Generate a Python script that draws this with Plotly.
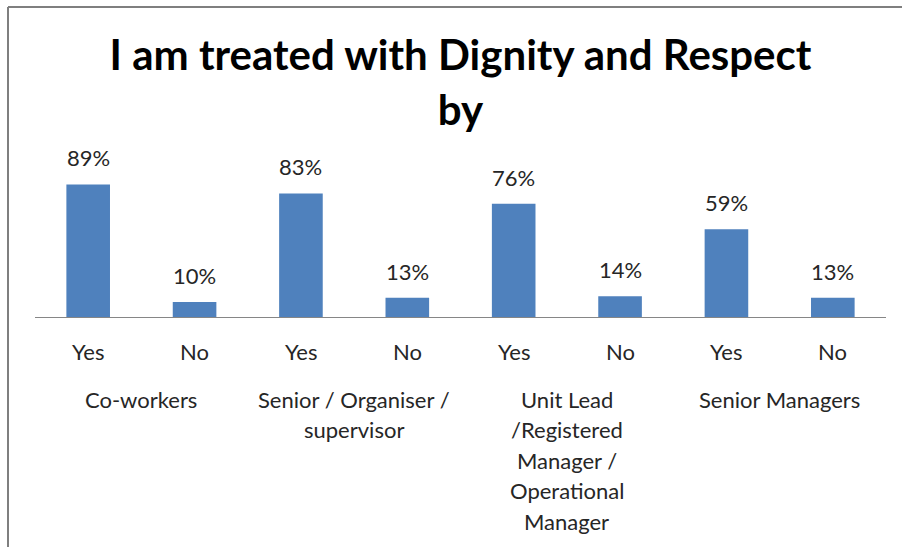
import plotly.graph_objects as go

# Survey results: share answering Yes / No per group
groups = [
    ["Co-workers"],
    ["Senior / Organiser /", "supervisor"],
    ["Unit Lead", "/Registered", "Manager /", "Operational", "Manager"],
    ["Senior Managers"],
]
answers = ["Yes", "No"]
yes_pct = [89, 83, 76, 59]
no_pct = [10, 13, 14, 13]

values = []
for y, n in zip(yes_pct, no_pct):
    values += [y, n]
positions = list(range(len(values)))
answer_labels = answers * len(groups)

BAR = "#4F81BD"
GRID = "#868686"
TXT = "#262626"
FONT = "Lato"

W, H = 902, 547
L, R, T, B = 35, 16, 140, 230
plot_h = H - T - B
y_max = plot_h / 1.489

fig = go.Figure(
    go.Bar(
        x=positions,
        y=values,
        marker=dict(color=BAR, line=dict(width=0)),
        width=0.41,
        hoverinfo="skip",
    )
)

ann = []
# value labels above bars
for x, v in zip(positions, values):
    ann.append(dict(x=x, y=v, xref="x", yref="y", text=f"{v}%", showarrow=False,
                    yanchor="bottom", yshift=11,
                    font=dict(family=FONT, size=22, color=TXT)))
# inner category labels (Yes / No)
for x, lab in zip(positions, answer_labels):
    ann.append(dict(x=x, y=0, xref="x", yref="y", text=lab, showarrow=False,
                    yanchor="middle", yshift=-34,
                    font=dict(family=FONT, size=22, color=TXT)))
# outer group labels, one line at a time
for gi, lines in enumerate(groups):
    cx = gi * 2 + 0.5
    for li, line in enumerate(lines):
        ann.append(dict(x=cx, y=0, xref="x", yref="y", text=line, showarrow=False,
                        yanchor="middle", yshift=-82 - li * 30.5,
                        font=dict(family=FONT, size=22, color=TXT)))

shapes = []
# group separators extending below the axis
for gi in range(len(groups) + 1):
    xs = gi * 2 - 0.5
    shapes.append(dict(type="line", xref="x", yref="y", ysizemode="pixel", yanchor=0,
                       x0=xs, x1=xs, y0=0, y1=-221,
                       line=dict(color=GRID, width=1.2)))

# chart frame (left and top edges)
fx = (8 - L) / (W - L - R)
fy = (H - B - 7) / plot_h
shapes.append(dict(type="line", xref="paper", yref="paper", x0=fx, x1=fx, y0=fy, y1=-5,
                   line=dict(color="#7f7f7f", width=2)))
shapes.append(dict(type="line", xref="paper", yref="paper", x0=fx, x1=5, y0=fy, y1=fy,
                   line=dict(color="#7f7f7f", width=2)))

fig.update_layout(
    width=W, height=H,
    margin=dict(l=L, r=R, t=T, b=B),
    paper_bgcolor="white", plot_bgcolor="white",
    showlegend=False,
    title=dict(text="I am treated with Dignity and Respect<br>by",
               xref="container", x=460.5 / W, xanchor="center",
               yref="container", y=1 - 70 / H, yanchor="middle",
               font=dict(family=FONT, size=42, color="black", weight="bold")),
    xaxis=dict(range=[-0.5, len(values) - 0.5], showticklabels=False, ticks="",
               showgrid=False, zeroline=False, showline=True, linecolor=GRID, linewidth=1.2),
    yaxis=dict(range=[0, y_max], visible=False, showgrid=False, zeroline=False),
    annotations=ann,
    shapes=shapes,
)

fig.write_html("out.html")
